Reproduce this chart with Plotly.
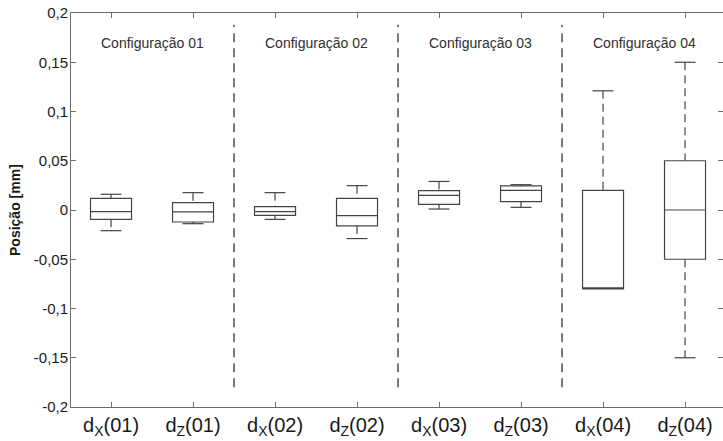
import plotly.graph_objects as go

# ---- data ----
categories = ["d<sub>X</sub>(01)", "d<sub>Z</sub>(01)", "d<sub>X</sub>(02)", "d<sub>Z</sub>(02)",
              "d<sub>X</sub>(03)", "d<sub>Z</sub>(03)", "d<sub>X</sub>(04)", "d<sub>Z</sub>(04)"]
q1_vals     = [-0.0095, -0.0122, -0.0054, -0.0162, 0.0058, 0.0085, -0.080, -0.050]
median_vals = [-0.0017, -0.0020, -0.0017, -0.0058, 0.0149, 0.0200, -0.080, 0.000]
q3_vals     = [0.0119, 0.0074, 0.0034, 0.0119, 0.0196, 0.0244, 0.020, 0.050]
lower_vals  = [-0.0210, -0.0139, -0.0095, -0.0290, 0.0010, 0.0027, -0.080, -0.150]
upper_vals  = [0.0160, 0.0176, 0.0176, 0.0247, 0.0290, 0.0257, 0.121, 0.150]
group_labels = ["Configuração 01", "Configuração 02", "Configuração 03", "Configuração 04"]
y_tick_vals = [0.2, 0.15, 0.1, 0.05, 0, -0.05, -0.1, -0.15, -0.2]
y_tick_text = ["0,2", "0,15", "0,1", "0,05", "0", "-0,05", "-0,1", "-0,15", "-0,2"]
y_title = "Posição [mm]"

LINE = "#444444"
FONT = "Liberation Sans, Arial, sans-serif"

fig = go.Figure()
xs = list(range(1, len(categories) + 1))

# boxes
for x, a, m, b in zip(xs, q1_vals, median_vals, q3_vals):
    fig.add_trace(go.Box(
        x=[x], q1=[a], median=[m], q3=[b], lowerfence=[a], upperfence=[b],
        width=0.5, whiskerwidth=0, fillcolor="white",
        line=dict(color=LINE, width=1.2), boxpoints=False,
        showlegend=False, hoverinfo="skip"))

# whiskers (dashed) and caps
cap = 0.128
for x, a, b, lo, hi in zip(xs, q1_vals, q3_vals, lower_vals, upper_vals):
    if hi > b:
        fig.add_trace(go.Scatter(x=[x, x], y=[hi, b], mode="lines",
                                 line=dict(color=LINE, width=1.2, dash="8px,5px"),
                                 showlegend=False, hoverinfo="skip"))
        fig.add_trace(go.Scatter(x=[x - cap, x + cap], y=[hi, hi], mode="lines",
                                 line=dict(color=LINE, width=1.2),
                                 showlegend=False, hoverinfo="skip"))
    if lo < a:
        fig.add_trace(go.Scatter(x=[x, x], y=[a, lo], mode="lines",
                                 line=dict(color=LINE, width=1.2, dash="8px,5px"),
                                 showlegend=False, hoverinfo="skip"))
        fig.add_trace(go.Scatter(x=[x - cap, x + cap], y=[lo, lo], mode="lines",
                                 line=dict(color=LINE, width=1.2),
                                 showlegend=False, hoverinfo="skip"))

# group separators and labels
for g in range(len(group_labels)):
    cx = 2 * g + 1.5
    fig.add_annotation(x=cx, y=0.17, text=group_labels[g], showarrow=False,
                       font=dict(family=FONT, size=14, color="#303030"))
    if g > 0:
        fig.add_shape(type="line", x0=2 * g + 0.5, x1=2 * g + 0.5, y0=-0.18, y1=0.188,
                      xref="x", yref="y",
                      line=dict(color="#222222", width=1.2, dash="9px,6px"))

# y-axis title placed as a rotated annotation for precise position
fig.add_annotation(x=-0.0859, y=0.5, xref="paper", yref="paper", text="<b>" + y_title + "</b>",
                   textangle=-90, showarrow=False, xanchor="center", yanchor="middle",
                   font=dict(family=FONT, size=14, color="#1a1a1a"))

axis_common = dict(showline=True, linecolor="#6e6e6e", linewidth=1, mirror="ticks",
                   ticks="inside", ticklen=5, tickcolor="#6e6e6e", showgrid=False,
                   zeroline=False)

fig.update_xaxes(range=[0.512, 8.463], tickvals=xs, ticktext=categories,
                 tickfont=dict(family=FONT, size=20, color="#1a1a1a"), **axis_common)
fig.update_yaxes(range=[-0.2, 0.2], tickvals=y_tick_vals, ticktext=y_tick_text,
                 tickfont=dict(family=FONT, size=15, color="#1a1a1a"),
                 ticklabelstandoff=-1, **axis_common)

fig.update_layout(width=723, height=441, margin=dict(l=71, r=0, t=13, b=34),
                  plot_bgcolor="white", paper_bgcolor="white", showlegend=False)

# remove the default 8px page margin so the figure fills the window exactly
fig.write_html("out.html", config={"displayModeBar": False},
               post_script="document.body.style.margin='0';")
